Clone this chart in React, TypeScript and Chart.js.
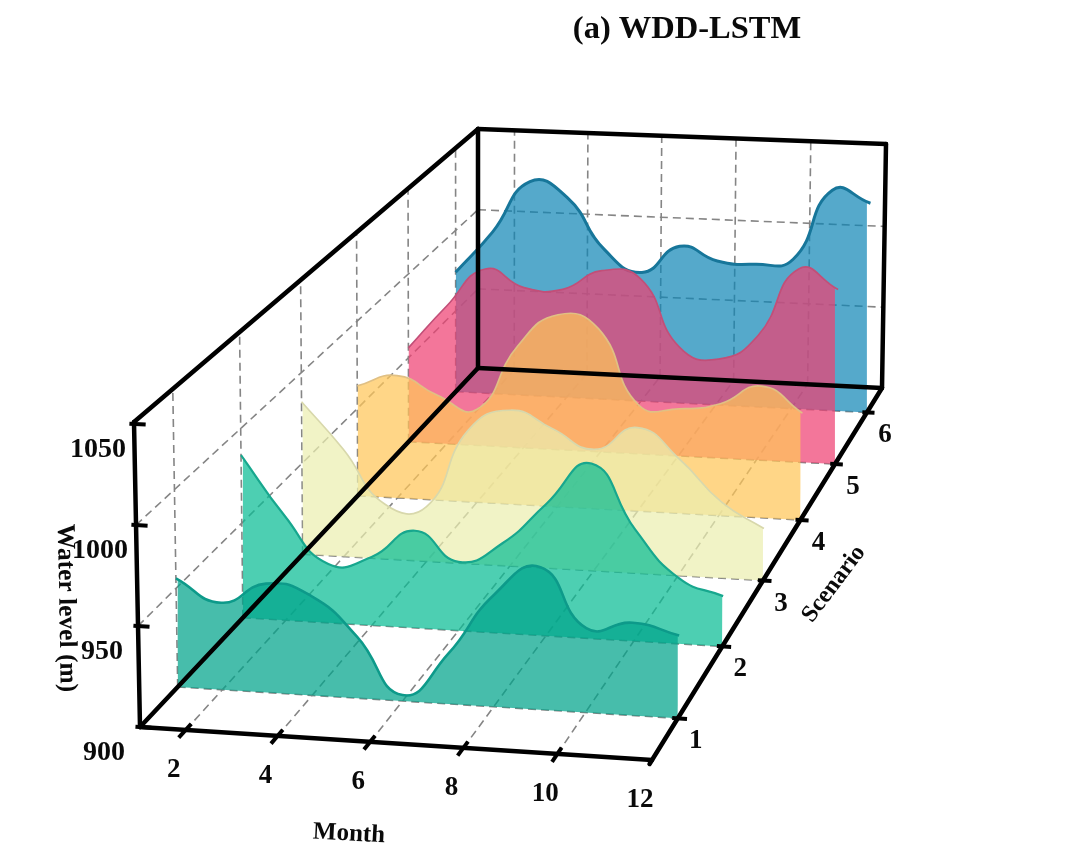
import React, { useRef, useEffect } from 'react';
import Chart from 'chart.js/auto';

const months = [1, 2, 3, 4, 5, 6, 7, 8, 9, 10, 11, 12];
const monthTicks = [2, 4, 6, 8, 10];
const monthLabels = [2, 4, 6, 8, 10, 12];
const scenarios = [1, 2, 3, 4, 5, 6];
const levelTicks = [900, 950, 1000, 1050];

const scenario1 = [955, 944, 955, 950, 931, 903, 925, 956, 971, 942, 946, 941];
const scenario2 = [986, 955, 931, 936, 951, 936, 947, 969, 991, 958, 934, 926];
const scenario3 = [984, 959, 930, 930, 973, 985, 976, 966, 979, 963, 941, 928];
const scenario4 = [963, 970, 960, 953, 990, 1009, 1002, 960, 959, 963, 974, 960];
const scenario5 = [956, 982, 1005, 995, 995, 1007, 1003, 964, 958, 973, 1013, 1002];
const scenario6 = [974, 1000, 1032, 1023, 992, 979, 996, 988, 987, 991, 1034, 1027];
const series = [scenario1, scenario2, scenario3, scenario4, scenario5, scenario6];

const fills = [
    'rgba(0,164,139,0.72)',
    'rgba(9,189,148,0.72)',
    'rgba(236,238,176,0.72)',
    'rgba(255,198,89,0.72)',
    'rgba(238,65,115,0.72)',
    'rgba(13,132,181,0.7)'
];
const lines = ['#0d9a8a', '#17a78e', '#d8d8ac', '#e0c084', '#c24f78', '#17769a'];
const lineWidths = [2.6, 2.2, 1.7, 1.7, 1.7, 3];

const MONTH_MIN = 1;
const MONTH_MAX = 12;
const SCEN_MIN = 0.46;
const SCEN_MAX = 6.5;
const LEVEL_MIN = 900;
const LEVEL_MAX = 1051;

type Pt = [number, number];

// unit square -> picture quad
function makeQuad(p0: Pt, p1: Pt, p2: Pt, p3: Pt) {
    const dx1 = p1[0] - p2[0];
    const dx2 = p3[0] - p2[0];
    const sx = p0[0] - p1[0] + p2[0] - p3[0];
    const dy1 = p1[1] - p2[1];
    const dy2 = p3[1] - p2[1];
    const sy = p0[1] - p1[1] + p2[1] - p3[1];
    const den = dx1 * dy2 - dx2 * dy1;
    const g = (sx * dy2 - dx2 * sy) / den;
    const h = (dx1 * sy - sx * dy1) / den;
    const a = p1[0] - p0[0] + g * p1[0];
    const b = p3[0] - p0[0] + h * p3[0];
    const d = p1[1] - p0[1] + g * p1[1];
    const e = p3[1] - p0[1] + h * p3[1];
    return (u: number, v: number): Pt => {
        const w = g * u + h * v + 1;
        return [(a * u + b * v + p0[0]) / w, (d * u + e * v + p0[1]) / w];
    };
}

const floorQuad = makeQuad([140, 727], [652, 760], [882, 388], [478, 368]);
const topQuad = makeQuad([134, 422], [657, 448], [886, 144], [478, 129]);

function project(month: number, scenario: number, level: number) {
    const u = (month - MONTH_MIN) / (MONTH_MAX - MONTH_MIN);
    const v = (scenario - SCEN_MIN) / (SCEN_MAX - SCEN_MIN);
    const w = (level - LEVEL_MIN) / (LEVEL_MAX - LEVEL_MIN);
    const f = floorQuad(u, v);
    const t = topQuad(u, v);
    return { x: f[0] + w * (t[0] - f[0]), y: f[1] + w * (t[1] - f[1]) };
}

function segment(a: number[], b: number[], opts: any) {
    return {
        data: [project(a[0], a[1], a[2]), project(b[0], b[1], b[2])],
        pointRadius: 0,
        fill: false,
        tension: 0,
        ...opts
    };
}

function buildDatasets() {
    const datasets: any[] = [];
    const grid = { borderColor: '#858585', borderWidth: 1.6, borderDash: [8, 5], order: 100 };
    const frame = { borderColor: '#000', borderWidth: 4.5, order: -1, borderCapStyle: 'round' };
    const tick = { borderColor: '#000', borderWidth: 4, order: -2 };

    // grid lines on the floor and the two walls
    monthTicks.forEach((m) => {
        datasets.push(segment([m, SCEN_MIN, LEVEL_MIN], [m, SCEN_MAX, LEVEL_MIN], grid));
        datasets.push(segment([m, SCEN_MAX, LEVEL_MIN], [m, SCEN_MAX, LEVEL_MAX], grid));
    });
    scenarios.forEach((s) => {
        datasets.push(segment([MONTH_MIN, s, LEVEL_MIN], [MONTH_MAX, s, LEVEL_MIN], grid));
        datasets.push(segment([MONTH_MIN, s, LEVEL_MIN], [MONTH_MIN, s, LEVEL_MAX], grid));
    });
    [950, 1000].forEach((l) => {
        datasets.push(segment([MONTH_MIN, SCEN_MIN, l], [MONTH_MIN, SCEN_MAX, l], grid));
        datasets.push(segment([MONTH_MIN, SCEN_MAX, l], [MONTH_MAX, SCEN_MAX, l], grid));
    });

    // ridges, each one filled down to its own base line; back ones go first
    series.forEach((values, i) => {
        const s = scenarios[i];
        const baseIndex = datasets.length;
        datasets.push({
            data: months.map((m) => project(m, s, LEVEL_MIN)),
            pointRadius: 0,
            borderWidth: 0,
            fill: false,
            order: 10 + i * 2 + 1,
            borderColor: 'transparent'
        });
        datasets.push({
            data: months.map((m, j) => project(m, s, values[j])),
            pointRadius: 0,
            borderWidth: lineWidths[i],
            borderColor: lines[i],
            backgroundColor: fills[i],
            fill: { target: baseIndex },
            tension: 0.5,
            order: 10 + i * 2
        });
    });

    // box
    const edges = [
        [[MONTH_MIN, SCEN_MIN, LEVEL_MIN], [MONTH_MAX, SCEN_MIN, LEVEL_MIN]],
        [[MONTH_MAX, SCEN_MIN - 0.05, LEVEL_MIN], [MONTH_MAX, SCEN_MAX, LEVEL_MIN]],
        [[MONTH_MAX, SCEN_MAX, LEVEL_MIN], [MONTH_MIN, SCEN_MAX, LEVEL_MIN]],
        [[MONTH_MIN, SCEN_MAX, LEVEL_MIN], [MONTH_MIN, SCEN_MIN, LEVEL_MIN]],
        [[MONTH_MIN, SCEN_MIN, LEVEL_MIN], [MONTH_MIN, SCEN_MIN, LEVEL_MAX]],
        [[MONTH_MIN, SCEN_MIN, LEVEL_MAX], [MONTH_MIN, SCEN_MAX, LEVEL_MAX]],
        [[MONTH_MIN, SCEN_MAX, LEVEL_MAX], [MONTH_MAX, SCEN_MAX, LEVEL_MAX]],
        [[MONTH_MAX, SCEN_MAX, LEVEL_MAX], [MONTH_MAX, SCEN_MAX, LEVEL_MIN]],
        [[MONTH_MIN, SCEN_MAX, LEVEL_MAX], [MONTH_MIN, SCEN_MAX, LEVEL_MIN]]
    ];
    edges.forEach((e) => datasets.push(segment(e[0], e[1], frame)));

    // ticks
    levelTicks.forEach((l) => datasets.push(segment([MONTH_MIN - 0.1, SCEN_MIN, l], [MONTH_MIN + 0.25, SCEN_MIN, l], tick)));
    monthTicks.forEach((m) => datasets.push(segment([m, SCEN_MIN - 0.1, LEVEL_MIN], [m, SCEN_MIN + 0.08, LEVEL_MIN], tick)));
    scenarios.forEach((s) => datasets.push(segment([MONTH_MAX - 0.12, s, LEVEL_MIN], [MONTH_MAX + 0.2, s, LEVEL_MIN], tick)));
    return datasets;
}

const textPlugin = {
    id: 'boxText',
    afterDraw(chart: any) {
        const { ctx, scales } = chart;
        const put = (text: string, x: number, y: number, size: number, angle = 0) => {
            ctx.save();
            ctx.translate(scales.x.getPixelForValue(x), scales.y.getPixelForValue(y));
            ctx.rotate((angle * Math.PI) / 180);
            ctx.font = `bold ${size}px "Liberation Serif"`;
            ctx.fillStyle = '#0a0a0a';
            ctx.textAlign = 'center';
            ctx.textBaseline = 'middle';
            ctx.fillText(text, 0, 0);
            ctx.restore();
        };
        put('(a) WDD-LSTM', 687, 30, 32.5);
        levelTicks.forEach((l) => {
            const p = project(MONTH_MIN, SCEN_MIN, l);
            put(String(l), p.x - 36, p.y + 26, 28);
        });
        monthLabels.forEach((m) => {
            const p = project(m, SCEN_MIN, LEVEL_MIN);
            put(String(m), p.x - 12, p.y + 40, 27);
        });
        scenarios.forEach((s) => {
            const p = project(MONTH_MAX, s, LEVEL_MIN);
            put(String(s), p.x + 18, p.y + 23, 27);
        });
        put('Water level (m)', 66, 608, 25.5, 89);
        put('Month', 349, 834, 25, 3);
        put('Scenario', 834, 584, 24, -53);
    }
};

export default function App() {
    const canvasRef = useRef<HTMLCanvasElement>(null);

    useEffect(() => {
        document.body.style.margin = '0';
        let chart: Chart | undefined;
        if (canvasRef.current) {
            chart = new Chart(canvasRef.current, {
                type: 'line',
                data: { datasets: buildDatasets() },
                options: {
                    responsive: false,
                    animation: false,
                    devicePixelRatio: 1,
                    layout: { padding: 0 },
                    plugins: { legend: { display: false }, tooltip: { enabled: false }, title: { display: false } },
                    scales: {
                        x: { type: 'linear', min: 0, max: 1080, display: false },
                        y: { type: 'linear', min: 0, max: 851, reverse: true, display: false }
                    }
                },
                plugins: [textPlugin]
            } as any);
        }
        return () => {
            if (chart) {
                chart.destroy();
            }
        };
    }, []);

    return <canvas ref={canvasRef} width={1080} height={851} style={{ display: 'block' }}></canvas>;
}
